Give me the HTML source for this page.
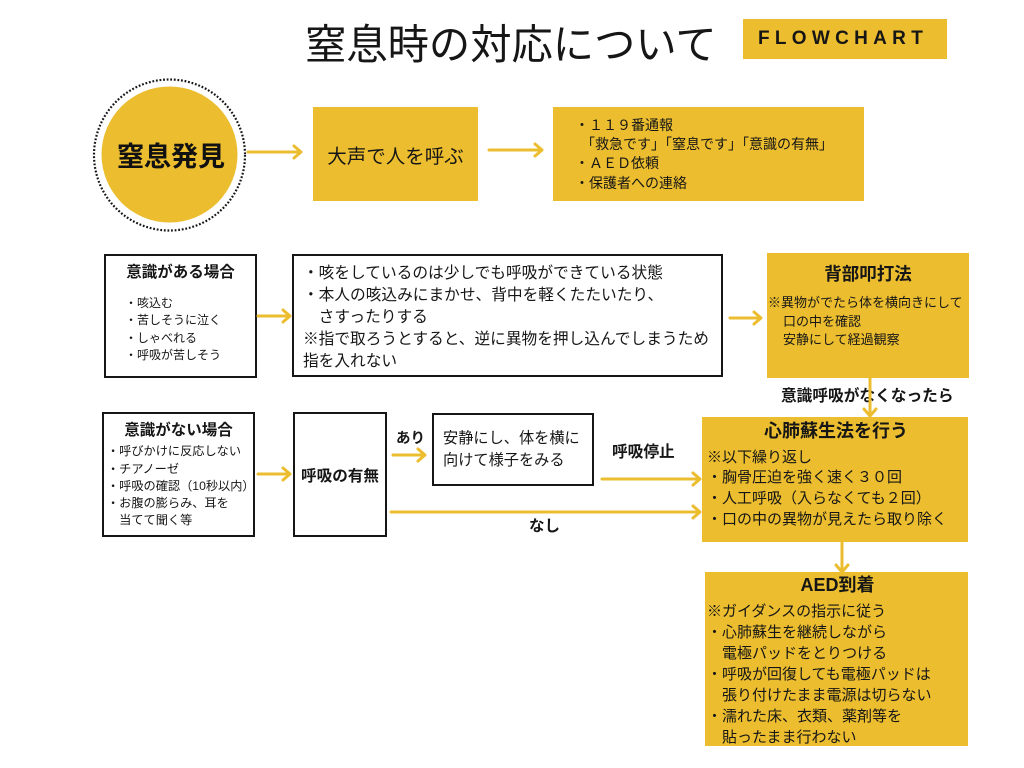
<!DOCTYPE html>
<html><head><meta charset="utf-8">
<style>
*{margin:0;padding:0;box-sizing:border-box}
body{width:1024px;height:768px;background:#fff;position:relative;overflow:hidden;font-family:"Liberation Sans","Noto Sans CJK JP",sans-serif;color:#161616}
.a{position:absolute;white-space:nowrap}
.y{position:absolute;background:#EBBD2F}
.k{position:absolute;border:2px solid #161616;background:#fff}
.b{font-weight:bold}
.c{text-align:center}
</style></head><body>

<!-- title -->
<div class="a" style="left:305px;top:20px;font-size:41.3px;line-height:50px;">窒息時の対応について</div>
<div class="y" style="left:743px;top:19px;width:204px;height:40px;"></div>
<div class="a b" style="left:758px;top:19px;line-height:40px;font-size:19px;letter-spacing:5.3px;">FLOWCHART</div>

<!-- boxes row 1 -->
<div class="y" style="left:313px;top:107px;width:165px;height:94px;"></div>
<div class="a c" style="left:313px;top:144px;width:165px;font-size:19.5px;line-height:26px;">大声で人を呼ぶ</div>
<div class="y" style="left:553px;top:107px;width:311px;height:94px;"></div>
<div class="a" style="left:575px;top:116px;font-size:14px;line-height:19px;">・１１９番通報</div>
<div class="a" style="left:581px;top:135px;font-size:14px;line-height:19px;">「救急です」「窒息です」「意識の有無」</div>
<div class="a" style="left:575px;top:154px;font-size:14px;line-height:19px;">・ＡＥＤ依頼</div>
<div class="a" style="left:575px;top:174px;font-size:14px;line-height:19px;">・保護者への連絡</div>

<!-- row 2 -->
<div class="k" style="left:104px;top:254px;width:153px;height:124px;"></div>
<div class="a b c" style="left:104px;top:262px;width:153px;font-size:15.5px;line-height:22px;">意識がある場合</div>
<div class="a" style="left:125px;top:294.5px;font-size:12px;line-height:17.5px;">・咳込む<br>・苦しそうに泣く<br>・しゃべれる<br>・呼吸が苦しそう</div>

<div class="k" style="left:292px;top:254px;width:431px;height:123px;"></div>
<div class="a" style="left:303px;top:262.5px;font-size:15.7px;line-height:22px;">・咳をしているのは少しでも呼吸ができている状態<br>・本人の咳込みにまかせ、背中を軽くたたいたり、<br>　さすったりする<br>※指で取ろうとすると、逆に異物を押し込んでしまうため<br>指を入れない</div>

<div class="y" style="left:767px;top:253px;width:202px;height:125px;"></div>
<div class="a b c" style="left:767px;top:262px;width:202px;font-size:17.5px;line-height:24px;">背部叩打法</div>
<div class="a" style="left:768px;top:294px;font-size:13px;line-height:18.5px;">※異物がでたら体を横向きにして</div>
<div class="a" style="left:783px;top:312.5px;font-size:13px;line-height:18.5px;">口の中を確認<br>安静にして経過観察</div>

<div class="a b" style="left:781px;top:386px;font-size:15.7px;line-height:22px;">意識呼吸がなくなったら</div>

<!-- row 3 -->
<div class="k" style="left:102px;top:412px;width:153px;height:125px;"></div>
<div class="a b c" style="left:102px;top:420px;width:153px;font-size:15.5px;line-height:22px;">意識がない場合</div>
<div class="a" style="left:107px;top:443.4px;font-size:12.2px;line-height:17.2px;">・呼びかけに反応しない<br>・チアノーゼ<br>・呼吸の確認（10秒以内）<br>・お腹の膨らみ、耳を<br>　当てて聞く等</div>

<div class="k" style="left:293px;top:412px;width:94px;height:125px;"></div>
<div class="a b c" style="left:293px;top:466px;width:94px;font-size:15.6px;line-height:22px;">呼吸の有無</div>

<div class="a b" style="left:396px;top:428px;font-size:14.5px;line-height:22px;">あり</div>
<div class="k" style="left:432px;top:413px;width:162px;height:73px;"></div>
<div class="a" style="left:443px;top:428px;font-size:15.2px;line-height:22px;">安静にし、体を横に<br>向けて様子をみる</div>

<div class="a b" style="left:612px;top:442px;font-size:15.7px;line-height:22px;">呼吸停止</div>
<div class="a b" style="left:529px;top:516px;font-size:15.5px;line-height:22px;">なし</div>

<div class="y" style="left:702px;top:417px;width:266px;height:125px;"></div>
<div class="a b c" style="left:702px;top:419px;width:268px;font-size:18px;line-height:24px;">心肺蘇生法を行う</div>
<div class="a" style="left:707px;top:447.5px;font-size:15px;line-height:20.7px;">※以下繰り返し<br>・胸骨圧迫を強く速く３０回<br>・人工呼吸（入らなくても２回）<br>・口の中の異物が見えたら取り除く</div>

<div class="y" style="left:705px;top:572px;width:263px;height:174px;"></div>
<div class="a b c" style="left:705px;top:573px;width:265px;font-size:18px;line-height:24px;">AED到着</div>
<div class="a" style="left:707px;top:600.5px;font-size:15px;line-height:21px;">※ガイダンスの指示に従う<br>・心肺蘇生を継続しながら<br>　電極パッドをとりつける<br>・呼吸が回復しても電極パッドは<br>　張り付けたまま電源は切らない<br>・濡れた床、衣類、薬剤等を<br>　貼ったまま行わない</div>

<!-- circle + arrows -->
<svg class="a" style="left:0;top:0" width="1024" height="768" viewBox="0 0 1024 768">
  <circle cx="169.5" cy="155" r="75.5" fill="none" stroke="#161616" stroke-width="2.2" stroke-dasharray="1.8 1.8"/>
  <circle cx="169.5" cy="154.5" r="68" fill="#EBBD2F"/>
  <text x="171" y="166" font-size="27" font-weight="bold" text-anchor="middle" font-family="'Liberation Sans','Noto Sans CJK JP',sans-serif" fill="#111">窒息発見</text>
  <g stroke="#EBBD2F" stroke-width="3" fill="none" stroke-linecap="round" stroke-linejoin="round">
    <line x1="248" y1="152" x2="300" y2="152"/><polyline points="294,146 301,152 294,158"/>
    <line x1="489" y1="150" x2="540" y2="150"/><polyline points="535,144 542,150 535,156"/>
    <line x1="258" y1="316" x2="288" y2="316"/><polyline points="283,310 290,316 283,322"/>
    <line x1="730" y1="318" x2="759" y2="318"/><polyline points="754,312 761,318 754,324"/>
    <line x1="870" y1="378" x2="870" y2="414"/><polyline points="864,409 870,416 876,409"/>
    <line x1="258" y1="474" x2="288" y2="474"/><polyline points="283,468 290,474 283,480"/>
    <line x1="393" y1="455" x2="423" y2="455"/><polyline points="418,449 425,455 418,461"/>
    <line x1="602" y1="479" x2="698" y2="479"/><polyline points="693,473 700,479 693,485"/>
    <line x1="391" y1="512" x2="698" y2="512"/><polyline points="693,506 700,512 693,518"/>
    <line x1="842" y1="542" x2="842" y2="570"/><polyline points="836,565 842,572 848,565"/>
  </g>
</svg>
</body></html>
